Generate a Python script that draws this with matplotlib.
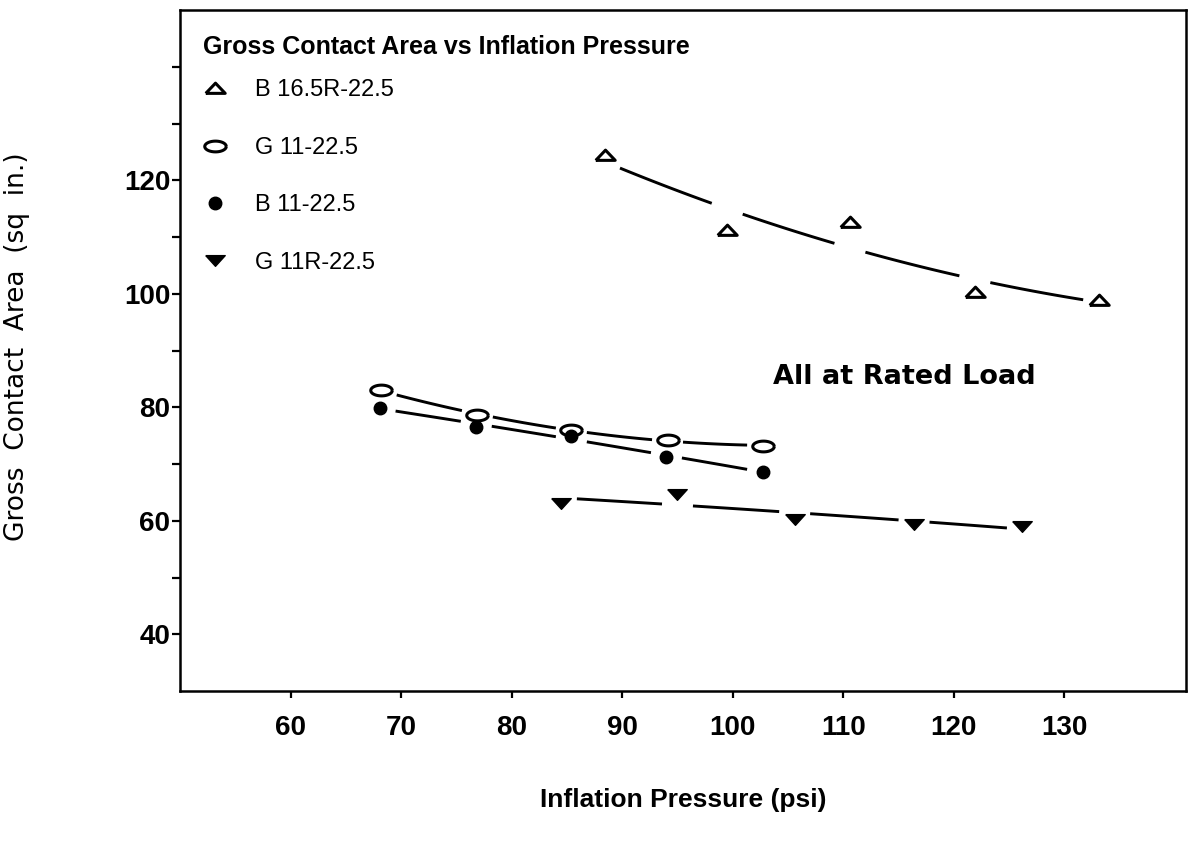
import matplotlib
import matplotlib.pyplot as plt
plt.switch_backend('agg')
import numpy as np

# data
tri_x = [88.4, 99.5, 110.6, 121.9, 133.1]
tri_y = [124.4, 111.2, 112.6, 100.3, 98.9]

ell_x = [68.2, 76.9, 85.4, 94.1, 102.7]
ell_y = [83.0, 78.6, 76.0, 74.2, 73.2]

dot_x = [68.1, 76.8, 85.4, 94.0, 102.7]
dot_y = [79.9, 76.6, 74.9, 71.3, 68.6]

dtri_x = [84.5, 95.0, 105.6, 116.4, 126.2]
dtri_y = [63.2, 64.8, 60.3, 59.4, 59.0]

labels = ['B 16.5R-22.5', 'G 11-22.5', 'B 11-22.5', 'G 11R-22.5']
x_ticks = [60, 70, 80, 90, 100, 110, 120, 130]
y_ticks = [40, 60, 80, 100, 120]
y_minor = [50, 70, 90, 110, 130, 140]

plt.rcParams['font.family'] = ['Liberation Sans', 'DejaVu Sans']

# marker shapes (flattened, like the scanned plot)
m_tri = [(-1, -0.5), (1, -0.5), (0, 0.55), (-1, -0.5)]
m_dtri = [(-1, 0.5), (1, 0.5), (0, -0.6), (-1, 0.5)]
t = np.linspace(0, 2 * np.pi, 40)
m_ell = list(zip(np.cos(t), 0.5 * np.sin(t)))

fig = plt.figure(figsize=(11.88, 8.52), dpi=100)
ax = fig.add_axes([180 / 1188, 1 - 691 / 852, 1006 / 1188, 681 / 852])

series = [
	(tri_x, tri_y, m_tri, 14, 'white', 2.2),
	(ell_x, ell_y, m_ell, 15.5, 'white', 2.2),
	(dot_x, dot_y, 'o', 9, 'black', 1.0),
	(dtri_x, dtri_y, m_dtri, 14, 'black', 1.0),
]

gap = 1.4
handles = []
for (xs, ys, mk, ms, fc, mew), lab in zip(series, labels):
	xs = np.array(xs)
	ys = np.array(ys)
	# smooth fit drawn as broken curve between the points
	p = np.polyfit(xs, ys, 2)
	for i in range(len(xs) - 1):
		xx = np.linspace(xs[i] + gap, xs[i + 1] - gap, 60)
		ax.plot(xx, np.polyval(p, xx), color='black', lw=2.1,
				solid_capstyle='butt')
	h, = ax.plot(xs, ys, linestyle='none', marker=mk, markersize=ms,
				 markerfacecolor=fc, markeredgecolor='black',
				 markeredgewidth=mew, label=lab, zorder=3)
	handles.append(h)

ax.set_xlim(50, 141)
ax.set_ylim(30, 150)
ax.set_xticks(x_ticks)
ax.set_yticks(y_ticks)
ax.set_yticks(y_minor, minor=True)

for s in ax.spines.values():
	s.set_linewidth(1.8)
ax.tick_params(axis='both', which='both', direction='out', width=1.6,
			   labelsize=20)
ax.tick_params(axis='x', length=5, pad=12)
ax.tick_params(axis='y', which='both', length=6, pad=1)
for lbl in ax.get_xticklabels() + ax.get_yticklabels():
	lbl.set_fontweight('bold')

ax.set_ylabel('Gross  Contact  Area  (sq  in.)', fontsize=19,
			  family='DejaVu Sans')
ax.yaxis.set_label_coords(-0.149, 0.505)
ax.set_xlabel('Inflation Pressure (psi)', fontsize=19, fontweight='bold')
ax.xaxis.set_label_coords(0.5, -0.16)
ax.xaxis.label.set_va('center')

ax.text(103.6, 85.3, 'All at Rated Load', fontsize=19.5, fontweight='bold',
		family='DejaVu Sans', va='center', ha='left')

ax.text(0.023, 0.9456, 'Gross Contact Area vs Inflation Pressure',
		transform=ax.transAxes, fontsize=18, fontweight='bold',
		va='center', ha='left')

leg = ax.legend(handles=handles, loc='upper left',
				bbox_to_anchor=(0.023, 0.898), frameon=False, borderpad=0,
				borderaxespad=0, handlelength=1.0, handletextpad=1.2,
				labelspacing=1.5, fontsize=17)

plt.savefig('out.png')
plt.close()
